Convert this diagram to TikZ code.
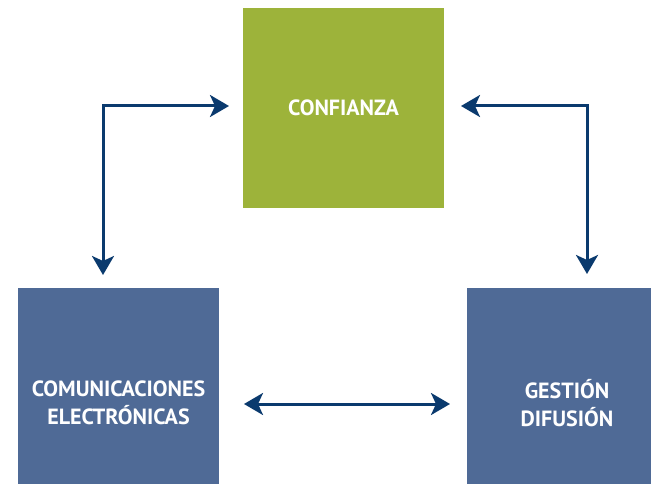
\documentclass[tikz,border=0pt]{standalone}
\usepackage{fontspec}
\setmainfont{PT Sans}
\usetikzlibrary{arrows.meta}
\definecolor{boxgreen}{HTML}{9DB33A}
\definecolor{boxblue}{HTML}{4F6A96}
\definecolor{navy}{HTML}{0A3A6E}
\begin{document}
\begin{tikzpicture}[x=1pt,y=-1pt,
  box/.style={inner sep=0pt, outer sep=0pt, text=white, align=center,
    font=\fontsize{22}{28}\selectfont\bfseries},
  arr/.style={draw=navy, line width=3pt,
    {Stealth[length=19pt,width=22pt,inset=5pt]}-{Stealth[length=19pt,width=22pt,inset=5pt]}}]
\useasboundingbox (0,0) rectangle (651,484);
\fill[white] (0,0) rectangle (651,484);
\fill[boxgreen] (243,8) rectangle (444,208);
\node[box] (conf) at (343.5,108) {CONFIANZA};
\fill[boxblue] (18,288) rectangle (219,484);
\node[box] (com) at (118.5,403) {COMUNICACIONES\\ELECTRÓNICAS};
\fill[boxblue] (467,288) rectangle (651,484);
\node[box] (ges) at (567,403) {GESTIÓN\\DIFUSIÓN};
\coordinate (confW) at (229,106);
\coordinate (confE) at (461,106);
\coordinate (comN) at (103,275);
\coordinate (gesN) at (587,274);
\coordinate (comE) at (244,404);
\coordinate (gesW) at (450,404);
\draw[arr] (confW) -| (comN);
\draw[arr] (confE) -| (gesN);
\draw[arr] (comE) -- (gesW);
\end{tikzpicture}
\end{document}
